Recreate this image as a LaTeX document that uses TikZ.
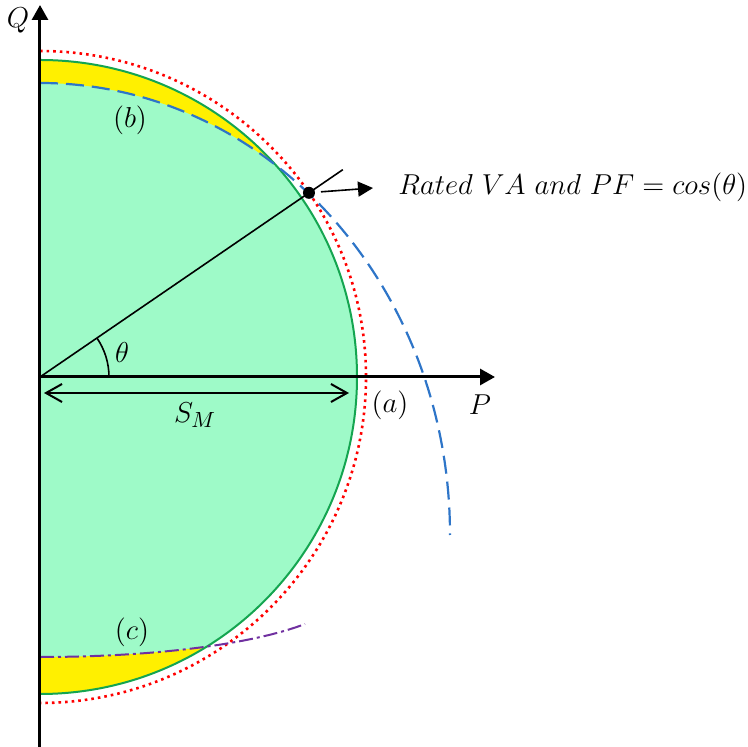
\documentclass[tikz,border=0pt]{standalone}
\usepackage{amsmath}
\usetikzlibrary{arrows.meta}
\definecolor{mint}{RGB}{158,250,200}
\definecolor{ringgreen}{RGB}{20,165,80}
\definecolor{dashblue}{RGB}{46,117,200}
\definecolor{lilac}{RGB}{112,48,160}
\definecolor{bandyellow}{RGB}{255,240,0}
\tikzset{
    axis/.style = {line width=1.5pt, -{Triangle[length=7.5pt, width=8pt]}},
    lbl/.style = {inner sep=1pt},
}
\begin{document}
\begin{tikzpicture}[x=0.5pt, y=0.5pt, font=\fontsize{15.5}{18}\selectfont]
    \useasboundingbox (-40,-370) rectangle (707,377);
    \coordinate (O) at (0,0);
    \coordinate (E) at (0,-158);
    \coordinate (A) at (34.4:326);
    \coordinate (Aend) at (34.4:367);
    \coordinate (Tip) at (333,189);

    % filled half disc and the two yellow bands
    \fill[mint] (0,317) arc[start angle=90, end angle=-90, radius=317] -- cycle;
    \begin{scope}
        \clip (0,317) arc[start angle=90, end angle=-90, radius=317] -- cycle;
        \begin{scope}
            \clip (0,0) rectangle (400,400);
            \fill[bandyellow, even odd rule] (0,0) rectangle (400,400) (E) ellipse [x radius=410, y radius=452];
        \end{scope}
        \fill[bandyellow] (0,-280) .. controls (110,-280) and (210,-268) .. (265,-247) -- (265,-400) -- (0,-400) -- cycle;
    \end{scope}

    \draw[ringgreen, line width=1pt] (0,317) arc[start angle=90, end angle=-90, radius=317];
    \draw[red, line width=1.3pt, dotted] (0,326) arc[start angle=90, end angle=-90, radius=326];
    \draw[dashblue, line width=1.1pt, dash pattern=on 9pt off 4pt] (0,294) arc[start angle=90, end angle=0, x radius=410, y radius=452];
    \draw[lilac, line width=1pt, dash pattern=on 7pt off 2pt on 1.5pt off 2pt] (0,-280) .. controls (110,-280) and (210,-268) .. (265,-247);

    % axes
    \draw[axis] (0,-370) -- (0,372);
    \draw[axis] (0,0) -- (455,0);
    \node[lbl] (Q) at (-22,357) {$Q$};
    \node[lbl] (P) at (440,-28) {$P$};

    % rated point
    \draw[line width=0.8pt] (O) -- (Aend);
    \fill[black] (A) circle (6);
    \draw[line width=0.8pt, -{Triangle[length=7.5pt, width=7.5pt]}] (A) ++(12,1) -- (Tip);
    \node[lbl, anchor=west, font=\fontsize{15}{18}\selectfont] (rated) at (356,190) {$Rated\ VA\ and\ PF = cos(\theta)$};

    \draw[line width=0.8pt] (69,0) arc[start angle=0, end angle=34.4, radius=69];
    \node[lbl] (th) at (82,24) {$\theta$};

    \draw[line width=1pt, {Straight Barb[length=8pt, width=9pt]}-{Straight Barb[length=8pt, width=9pt]}] (4,-16) -- (309,-16);
    \node[lbl] (SM) at (155,-38) {$S_M$};

    \node[lbl] (a) at (350,-28) {$(a)$};
    \node[lbl] (b) at (90,257) {$(b)$};
    \node[lbl] (c) at (92,-255) {$(c)$};
\end{tikzpicture}
\end{document}
